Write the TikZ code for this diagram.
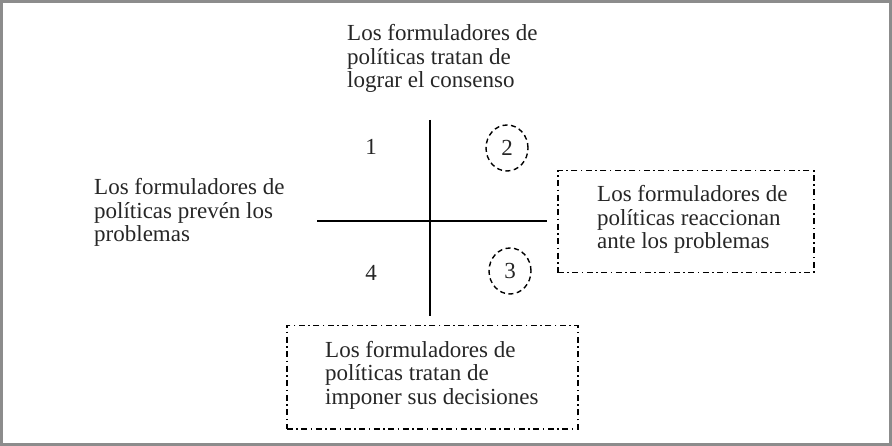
\documentclass[tikz,border=0pt]{standalone}
\usepackage{fontspec}
\setmainfont{Liberation Serif}
\usetikzlibrary{shapes.geometric}
\begin{document}
\begin{tikzpicture}[x=1pt,y=-1pt,
  lbl/.style={font=\fontsize{23}{23.5}\selectfont, align=left, inner sep=0pt, anchor=base west, text=black!85},
  num/.style={font=\fontsize{23}{23.5}\selectfont, inner sep=0pt, text=black!85},
  axis/.style={line width=1.6pt, black},
  dashdotbox/.style={draw, line width=1.5pt, dash pattern=on 6pt off 3.5pt on 1.5pt off 3.5pt, minimum width=#1, inner sep=0pt},
  oval/.style={ellipse, draw, line width=1.4pt, dash pattern=on 5pt off 3.5pt, inner sep=0pt, minimum width=42pt, minimum height=46pt, font=\fontsize{23}{23.5}\selectfont, text=black!85}
]
\useasboundingbox (0,0) rectangle (892,446);
\draw[line width=2.5pt, black!45] (1.5,1.5) rectangle (890.5,444.5);

\node[lbl] (top) at (347,88) {Los formuladores de\\políticas tratan de\\lograr el consenso};
\node[lbl] (left) at (94,242) {Los formuladores de\\políticas prevén los\\problemas};

\coordinate (vt) at (430,120);
\coordinate (vb) at (430,316);
\coordinate (hl) at (317,221);
\coordinate (hr) at (547,221);
\draw[axis] (vt) -- (vb);
\draw[axis] (hl) -- (hr);

\node[num] (n1) at (371,147) {1};
\node[num] (n4) at (371,273) {4};
\node[oval] (c2) at (507,148) {2};
\node[oval] (c3) at (510,271) {3};

\node[dashdotbox=256pt, minimum height=102pt, anchor=north west] (rbox) at (557,170) {};
\node[lbl] (rtext) at (597,249) {Los formuladores de\\políticas reaccionan\\ante los problemas};

\node[dashdotbox=291pt, minimum height=103pt, anchor=north west] (bbox) at (286,325) {};
\node[lbl] (btext) at (325,404) {Los formuladores de\\políticas tratan de\\imponer sus decisiones};
\end{tikzpicture}
\end{document}
